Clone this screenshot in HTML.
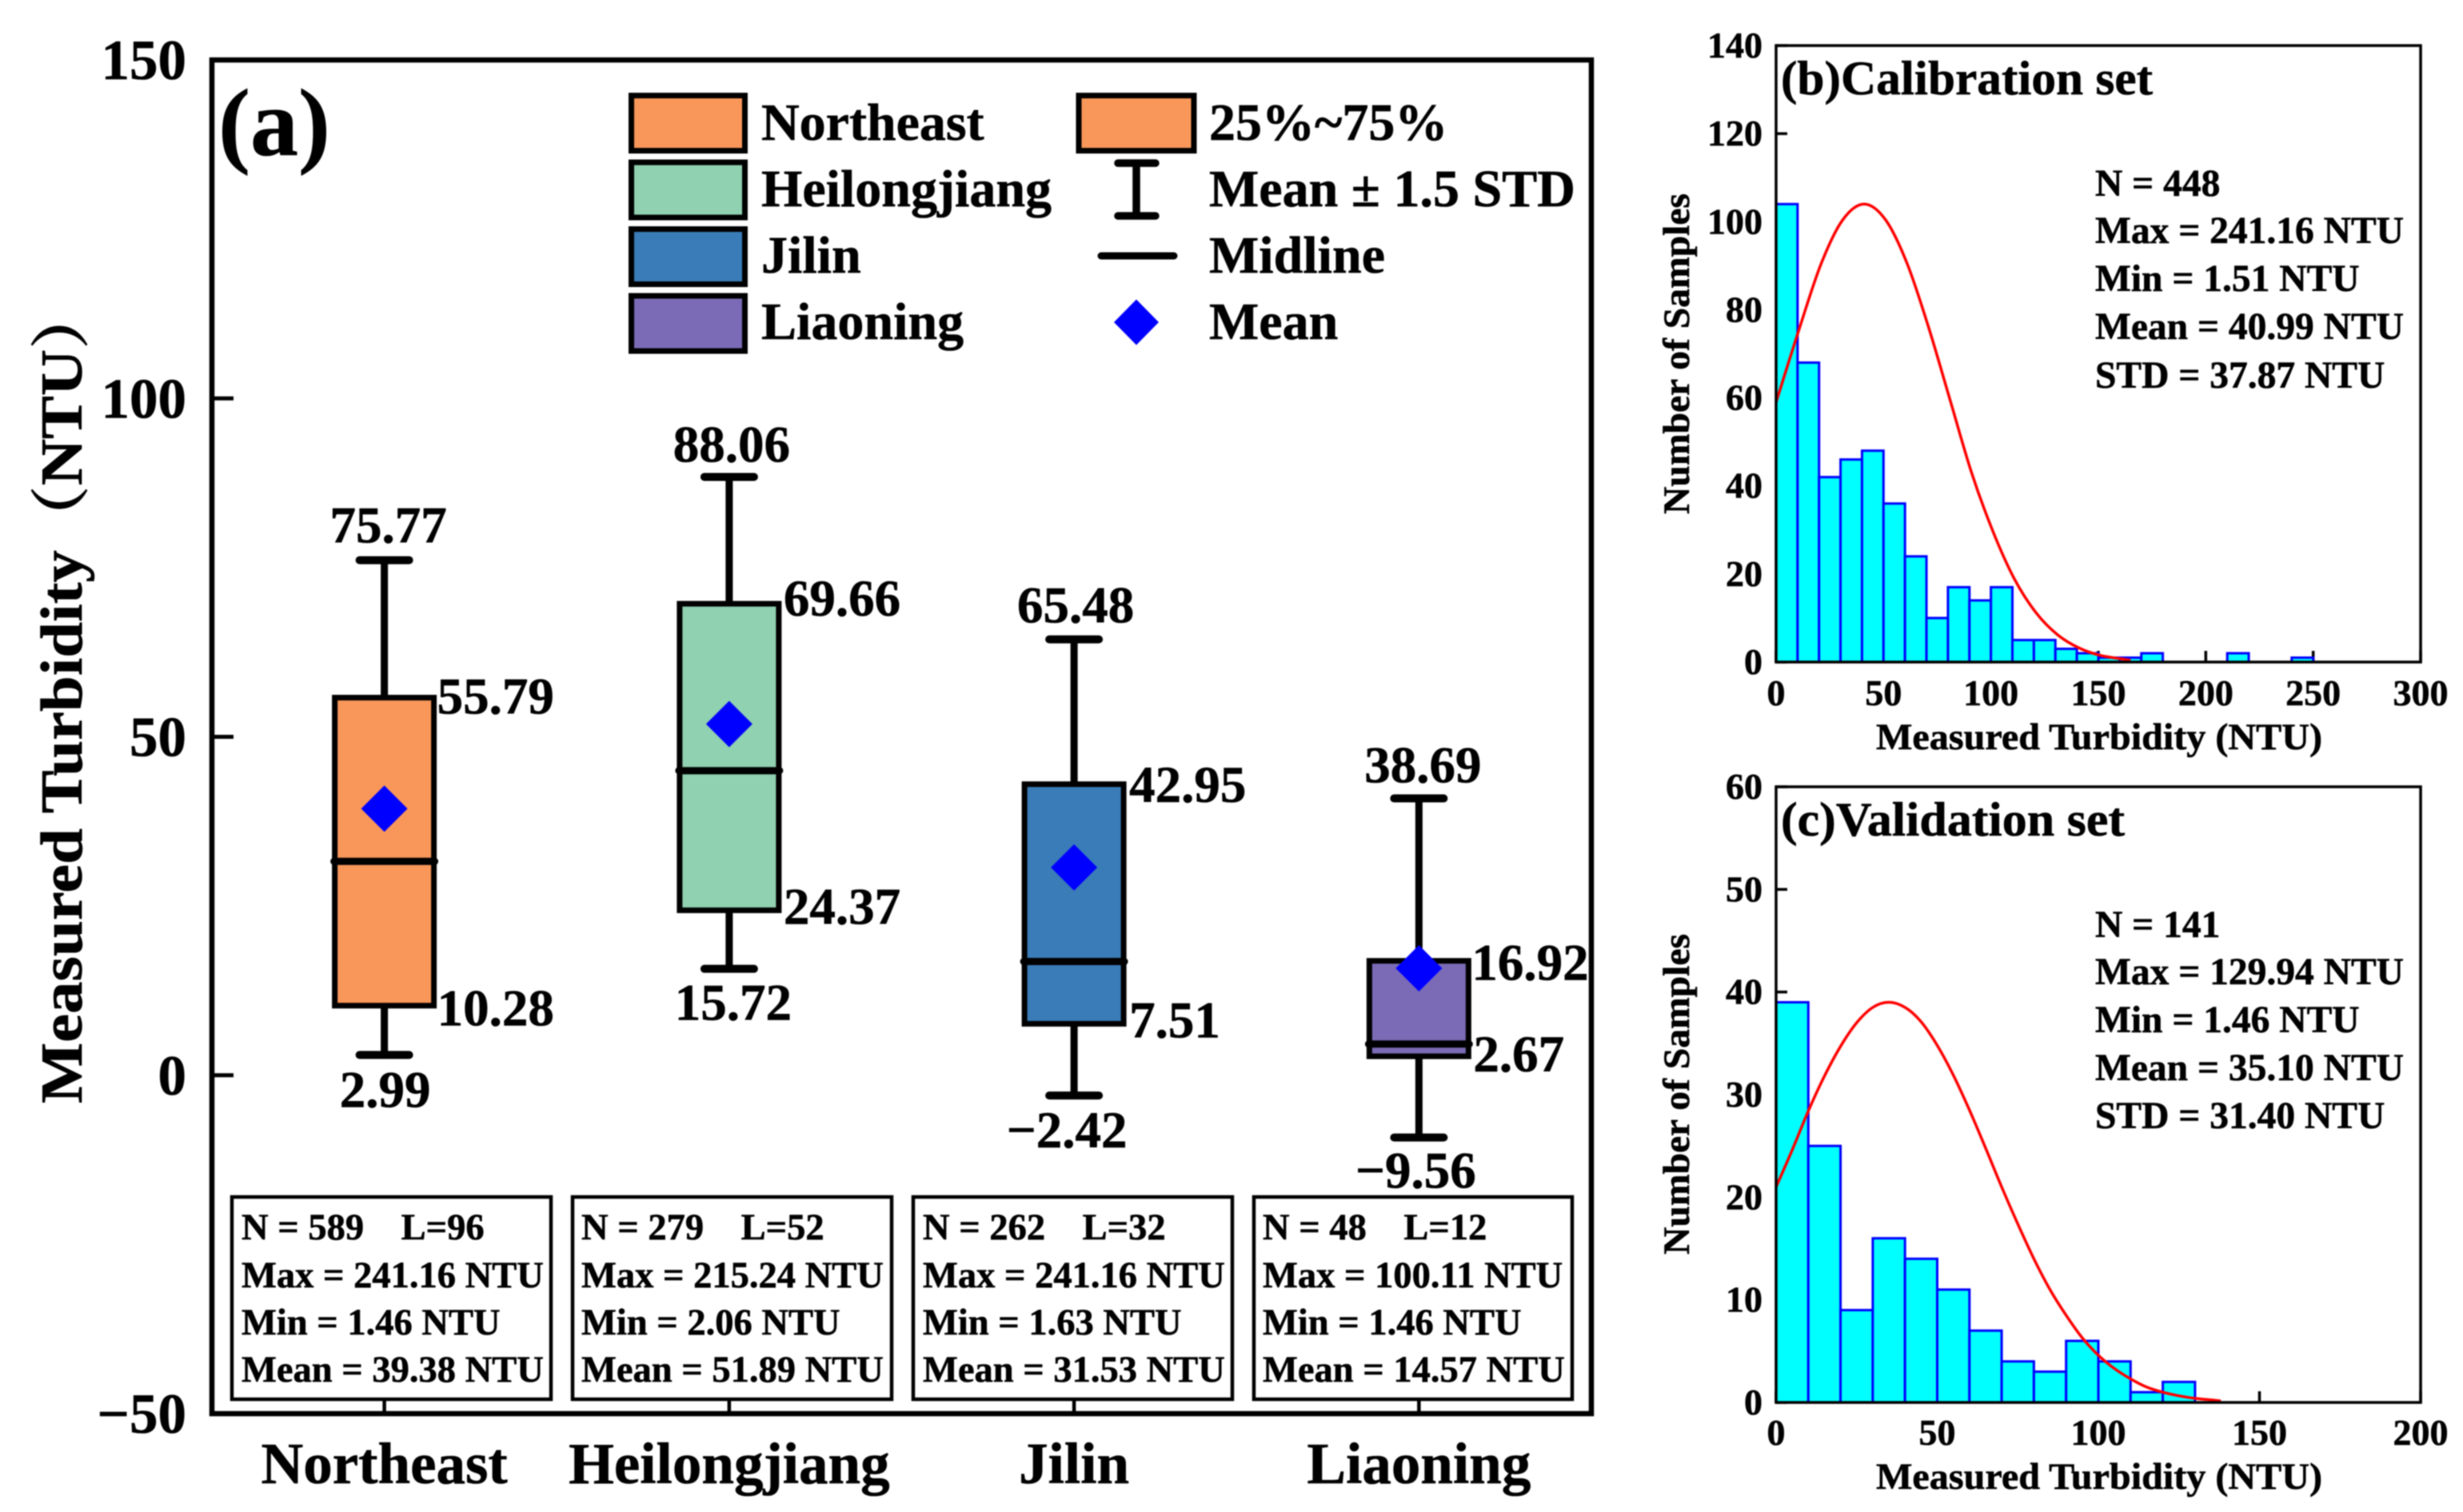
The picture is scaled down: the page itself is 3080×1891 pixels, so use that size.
<!DOCTYPE html>
<html lang="en">
<head>
<meta charset="utf-8">
<title>Measured turbidity box plot and histograms</title>
<style>
html,body{margin:0;padding:0;background:#fff;}
svg{display:block;filter:blur(0.9px);}
text{font-family:"Liberation Serif","Noto Serif CJK SC",serif;font-weight:bold;fill:#000;stroke:#000;stroke-width:0.6px;white-space:pre;}
.info{font-size:46.5px;}
.leg{font-size:66px;}
.stat{font-size:47.5px;}
.ptitle{font-size:60px;}
</style>
</head>
<body>
<svg id="figure" xmlns="http://www.w3.org/2000/svg" width="3080" height="1891" viewBox="0 0 3080 1891">
  <rect x="0" y="0" width="3080" height="1891" fill="#ffffff"/>
  <g id="panel-a">
    <text x="273" y="194" font-size="120">(a)</text>
    <text transform="translate(102,1380) rotate(-90)" font-size="74" textLength="1024" lengthAdjust="spacingAndGlyphs">Measured Turbidity（NTU）</text>
    <g id="box-layer"></g>
    <g>
      <rect x="789.500" y="119.500" width="142" height="69" fill="#F9975A" stroke="#000" stroke-width="7"/>
      <rect x="789.500" y="203" width="142" height="69" fill="#8FD1B0" stroke="#000" stroke-width="7"/>
      <rect x="789.500" y="286.500" width="142" height="69" fill="#3A7CB8" stroke="#000" stroke-width="7"/>
      <rect x="789.500" y="370" width="142" height="69" fill="#7B6BB6" stroke="#000" stroke-width="7"/>
      <text class="leg" x="952" y="175">Northeast</text>
      <text class="leg" x="952" y="258">Heilongjiang</text>
      <text class="leg" x="952" y="341">Jilin</text>
      <text class="leg" x="952" y="424">Liaoning</text>
      <rect x="1349" y="119.500" width="144" height="69" fill="#F9975A" stroke="#000" stroke-width="7"/>
      <path d="M1398 204H1445M1421 204V270M1398 270H1445" fill="none" stroke="#000" stroke-width="9.500" stroke-linecap="round"/>
      <path d="M1377 320H1468" fill="none" stroke="#000" stroke-width="9" stroke-linecap="round"/>
      <path d="M1421 374.500L1449 403L1421 431.500L1393 403Z" fill="#0000FF"/>
      <text class="leg" x="1512" y="175">25%~75%</text>
      <text class="leg" x="1512" y="258">Mean ± 1.5 STD</text>
      <text class="leg" x="1512" y="341">Midline</text>
      <text class="leg" x="1512" y="424">Mean</text>
    </g>
    <g>
      <rect x="290" y="1497" width="399" height="253" fill="#fff" stroke="#000" stroke-width="4.500"/>
      <text class="info" x="302" y="1550">N = 589    L=96</text>
      <text class="info" x="302" y="1610">Max = 241.16 NTU</text>
      <text class="info" x="302" y="1669">Min = 1.46 NTU</text>
      <text class="info" x="302" y="1728">Mean = 39.38 NTU</text>
    </g>
    <g>
      <rect x="716" y="1497" width="399" height="253" fill="#fff" stroke="#000" stroke-width="4.500"/>
      <text class="info" x="727" y="1550">N = 279    L=52</text>
      <text class="info" x="727" y="1610">Max = 215.24 NTU</text>
      <text class="info" x="727" y="1669">Min = 2.06 NTU</text>
      <text class="info" x="727" y="1728">Mean = 51.89 NTU</text>
    </g>
    <g>
      <rect x="1142" y="1497" width="399" height="253" fill="#fff" stroke="#000" stroke-width="4.500"/>
      <text class="info" x="1154" y="1550">N = 262    L=32</text>
      <text class="info" x="1154" y="1610">Max = 241.16 NTU</text>
      <text class="info" x="1154" y="1669">Min = 1.63 NTU</text>
      <text class="info" x="1154" y="1728">Mean = 31.53 NTU</text>
    </g>
    <g>
      <rect x="1568" y="1497" width="398" height="253" fill="#fff" stroke="#000" stroke-width="4.500"/>
      <text class="info" x="1579" y="1550">N = 48    L=12</text>
      <text class="info" x="1579" y="1610">Max = 100.11 NTU</text>
      <text class="info" x="1579" y="1669">Min = 1.46 NTU</text>
      <text class="info" x="1579" y="1728">Mean = 14.57 NTU</text>
    </g>
    <g id="axes-a"></g>
  </g>
  <g id="panel-b"></g>
  <g id="panel-c"></g>
  <g>
    <text class="ptitle" x="2227" y="118" textLength="465" lengthAdjust="spacingAndGlyphs">(b)Calibration set</text>
    <text class="stat" x="2620" y="245">N = 448</text>
    <text class="stat" x="2620" y="304">Max = 241.16 NTU</text>
    <text class="stat" x="2620" y="364">Min = 1.51 NTU</text>
    <text class="stat" x="2620" y="424">Mean = 40.99 NTU</text>
    <text class="stat" x="2620" y="485">STD = 37.87 NTU</text>
  </g>
  <g>
    <text class="ptitle" x="2227" y="1045" textLength="430" lengthAdjust="spacingAndGlyphs">(c)Validation set</text>
    <text class="stat" x="2620" y="1172">N = 141</text>
    <text class="stat" x="2620" y="1231">Max = 129.94 NTU</text>
    <text class="stat" x="2620" y="1291">Min = 1.46 NTU</text>
    <text class="stat" x="2620" y="1351">Mean = 35.10 NTU</text>
    <text class="stat" x="2620" y="1411">STD = 31.40 NTU</text>
  </g>
</svg>
<script>
// ---- Box plot data ----
const categories = ['Northeast', 'Heilongjiang', 'Jilin', 'Liaoning'];
const whiskerHigh = [76.1, 88.4, 64.4, 40.9];
const boxHigh = [55.79, 69.66, 43.0, 16.9];
const medians = [31.6, 45.0, 16.8, 4.6];
const boxLow = [10.28, 24.37, 7.6, 2.8];
const whiskerLow = [3.0, 15.72, -3.0, -9.2];
const means = [39.38, 51.89, 30.7, 15.8];
const printedWhiskerHigh = ['75.77', '88.06', '65.48', '38.69'];
const printedBoxHigh = ['55.79', '69.66', '42.95', '16.92'];
const printedBoxLow = ['10.28', '24.37', '7.51', '2.67'];
const printedWhiskerLow = ['2.99', '15.72', '−2.42', '−9.56'];
const boxYTickValues = [150, 100, 50, 0, -50];
const boxYTickLabels = ['150', '100', '50', '0', '−50'];

// ---- Calibration histogram data ----
const calibrationCounts = [104, 68, 42, 46, 48, 36, 24, 10, 17, 14, 17, 5, 5, 3, 2, 1, 1, 2, 0, 0, 0, 2, 0, 0, 1];
const calibrationCurveX = [0, 11, 21, 31, 41, 51, 61, 71, 81, 91, 101, 111, 121, 131, 141, 151, 161, 165];
const calibrationCurveY = [59, 76, 90.5, 100.4, 104, 100.4, 90.5, 76, 59.5, 43, 29.6, 18.8, 11.2, 6.2, 3.2, 1.5, 0.7, 0.4];
const calibrationXTicks = [0, 50, 100, 150, 200, 250, 300];
const calibrationYTicks = [0, 20, 40, 60, 80, 100, 120, 140];

// ---- Validation histogram data ----
const validationCounts = [39, 25, 9, 16, 14, 11, 7, 4, 3, 6, 4, 1, 2];
const validationCurveX = [0, 5, 10, 15, 20, 25, 30, 35, 40, 45, 50, 55, 60, 65, 70, 75, 80, 85, 90, 95, 100, 105, 110, 115, 120, 125, 130, 135, 138];
const validationCurveY = [21, 24.6, 28.4, 31.8, 34.7, 37, 38.5, 39, 38.5, 37.1, 34.8, 31.9, 28.5, 24.8, 21, 17.4, 14, 11, 8.5, 6.3, 4.6, 3.3, 2.3, 1.5, 1, 0.65, 0.4, 0.25, 0.15];
const validationXTicks = [0, 50, 100, 150, 200];
const validationYTicks = [0, 10, 20, 30, 40, 50, 60];

// ---- Layout (not data) ----
const boxFills = ['#F9975A', '#8FD1B0', '#3A7CB8', '#7B6BB6'];
const A = {left: 265, right: 1990, top: 75, bottom: 1768, yMin: -50, yMax: 150};
const xA = i => A.left + (i + 0.5) * (A.right - A.left) / categories.length;
const yA = v => A.bottom - (v - A.yMin) / (A.yMax - A.yMin) * (A.bottom - A.top);
const NS = 'http://www.w3.org/2000/svg';
const nudgeTopX = [5, 3, 2, 5], nudgeTopY = [-22, -19, -21, -20];
const nudgeHighX = [66, 68, 69, 66], nudgeHighY = [20, 15, 22, 24];
const nudgeLowX = [66, 68, 69, 68], nudgeLowY = [25, 17, 17, 19];
const nudgeBotX = [1, 5, -9, -4], nudgeBotY = [65, 64, 65, 63];

function make(parent, tag, attrs, content) {
  const node = document.createElementNS(NS, tag);
  for (const k in attrs) node.setAttribute(k, attrs[k]);
  if (content !== undefined) node.textContent = content;
  parent.appendChild(node);
  return node;
}

// ---- Panel (a): boxes ----
const boxLayer = document.getElementById('box-layer');
categories.forEach((cat, i) => {
  const key = cat.toLowerCase();
  const cx = xA(i);
  const g = make(boxLayer, 'g', {});
  
  

  const stem = make(g, 'line', {x1: cx, x2: cx, y1: yA(whiskerHigh[i]), y2: yA(whiskerLow[i]), stroke: '#000', 'stroke-width': 9});
  
  

  const capHigh = make(g, 'line', {x1: cx - 31, x2: cx + 31, y1: yA(whiskerHigh[i]), y2: yA(whiskerHigh[i]), stroke: '#000', 'stroke-width': 10, 'stroke-linecap': 'round'});
  
  

  const capLow = make(g, 'line', {x1: cx - 31, x2: cx + 31, y1: yA(whiskerLow[i]), y2: yA(whiskerLow[i]), stroke: '#000', 'stroke-width': 10, 'stroke-linecap': 'round'});
  
  

  const box = make(g, 'rect', {x: cx - 62, width: 124, y: yA(boxHigh[i]), height: yA(boxLow[i]) - yA(boxHigh[i]), fill: boxFills[i], stroke: '#000', 'stroke-width': 7});
  
  

  const mid = make(g, 'line', {x1: cx - 63, x2: cx + 63, y1: yA(medians[i]), y2: yA(medians[i]), stroke: '#000', 'stroke-width': 9, 'stroke-linecap': 'round'});
  
  

  const my = yA(means[i]);
  const diamond = make(g, 'path', {d: `M${cx} ${my - 29}L${cx + 29} ${my}L${cx} ${my + 29}L${cx - 29} ${my}Z`, fill: '#0000FF'});
  
  

  const lblTop = make(g, 'text', {x: cx + nudgeTopX[i], y: yA(whiskerHigh[i]) + nudgeTopY[i], 'text-anchor': 'middle', 'font-size': 65}, printedWhiskerHigh[i]);
  
  

  const lblHigh = make(g, 'text', {x: cx + nudgeHighX[i], y: yA(boxHigh[i]) + nudgeHighY[i], 'font-size': 65}, printedBoxHigh[i]);
  
  

  const lblLow = make(g, 'text', {x: cx + nudgeLowX[i], y: yA(boxLow[i]) + nudgeLowY[i], 'font-size': 65}, printedBoxLow[i]);
  
  

  const lblBot = make(g, 'text', {x: cx + nudgeBotX[i], y: yA(whiskerLow[i]) + nudgeBotY[i], 'text-anchor': 'middle', 'font-size': 65}, printedWhiskerLow[i]);
  
  
});

// ---- Panel (a): axes ----
const axesA = document.getElementById('axes-a');
const frameA = make(axesA, 'rect', {x: A.left, y: A.top, width: A.right - A.left, height: A.bottom - A.top, fill: 'none', stroke: '#000', 'stroke-width': 6.5});



boxYTickValues.forEach((v, i) => {
  const tick = make(axesA, 'line', {x1: A.left, x2: A.left + 27, y1: yA(v), y2: yA(v), stroke: '#000', 'stroke-width': 5});
  
  
  const label = make(axesA, 'text', {x: 233, y: yA(v) + 24, 'text-anchor': 'end', 'font-size': 71}, boxYTickLabels[i]);
  
  
});
categories.forEach((cat, i) => {
  const tick = make(axesA, 'line', {x1: xA(i), x2: xA(i), y1: A.bottom, y2: A.bottom - 20, stroke: '#000', 'stroke-width': 4.5});
  
  
  const label = make(axesA, 'text', {x: xA(i), y: 1855, 'text-anchor': 'middle', 'font-size': 73}, cat);
  
  
});

// ---- Histograms ----
function drawHistogram(root, prefix, box, xMax, yMax, counts, curveX, curveY, xTicks, yTicks, xLabelY, xTitleY, yTitleBase) {
  const sx = v => box.left + v / xMax * (box.right - box.left);
  const sy = v => box.bottom - v / yMax * (box.bottom - box.top);

  xTicks.forEach(v => {
    const tick = make(root, 'line', {x1: sx(v), x2: sx(v), y1: box.bottom, y2: box.bottom - 14, stroke: '#000', 'stroke-width': 3.5});
    
    
    const label = make(root, 'text', {x: sx(v), y: xLabelY, 'text-anchor': 'middle', 'font-size': 46}, String(v));
    
    
  });
  yTicks.forEach(v => {
    const tick = make(root, 'line', {x1: box.left, x2: box.left + 14, y1: sy(v), y2: sy(v), stroke: '#000', 'stroke-width': 3.5});
    
    
    const label = make(root, 'text', {x: 2204, y: sy(v) + 15, 'text-anchor': 'end', 'font-size': 46}, String(v));
    
    
  });

  counts.forEach((c, i) => {
    if (!c) return;
    const bar = make(root, 'rect', {x: sx(i * 10), width: sx(10) - sx(0), y: sy(c), height: box.bottom - sy(c), fill: '#00FFFF', stroke: '#0000FF', 'stroke-width': 3});
    
    
  });

  const pts = curveX.map((x, i) => [sx(x), sy(curveY[i])]);
  let d = `M${pts[0][0]} ${pts[0][1]}`;
  for (let i = 0; i < pts.length - 1; i++) {
    const p0 = pts[Math.max(i - 1, 0)], p1 = pts[i], p2 = pts[i + 1], p3 = pts[Math.min(i + 2, pts.length - 1)];
    d += `C${p1[0] + (p2[0] - p0[0]) / 6} ${p1[1] + (p2[1] - p0[1]) / 6} ${p2[0] - (p3[0] - p1[0]) / 6} ${p2[1] - (p3[1] - p1[1]) / 6} ${p2[0]} ${p2[1]}`;
  }
  const curve = make(root, 'path', {d: d, fill: 'none', stroke: '#FF0000', 'stroke-width': 3.5});
  
  

  const frame = make(root, 'rect', {x: box.left, y: box.top, width: box.right - box.left, height: box.bottom - box.top, fill: 'none', stroke: '#000', 'stroke-width': 3.5});
  
  

  const yTitle = make(root, 'text', {transform: `translate(2112,${yTitleBase}) rotate(-90)`, 'font-size': 47, textLength: 401, lengthAdjust: 'spacingAndGlyphs'}, 'Number of Samples');
  
  

  const xTitle = make(root, 'text', {x: 2346, y: xTitleY, 'font-size': 47, textLength: 558, lengthAdjust: 'spacingAndGlyphs'}, 'Measured Turbidity (NTU)');
  
  
}

drawHistogram(document.getElementById('panel-b'), 'calibration', {left: 2221, right: 3027, top: 57, bottom: 828}, 300, 140,
  calibrationCounts, calibrationCurveX, calibrationCurveY, calibrationXTicks, calibrationYTicks, 882, 937, 643);
drawHistogram(document.getElementById('panel-c'), 'validation', {left: 2221, right: 3027, top: 984, bottom: 1754}, 200, 60,
  validationCounts, validationCurveX, validationCurveY, validationXTicks, validationYTicks, 1807, 1862, 1569);
</script>
</body>
</html>
